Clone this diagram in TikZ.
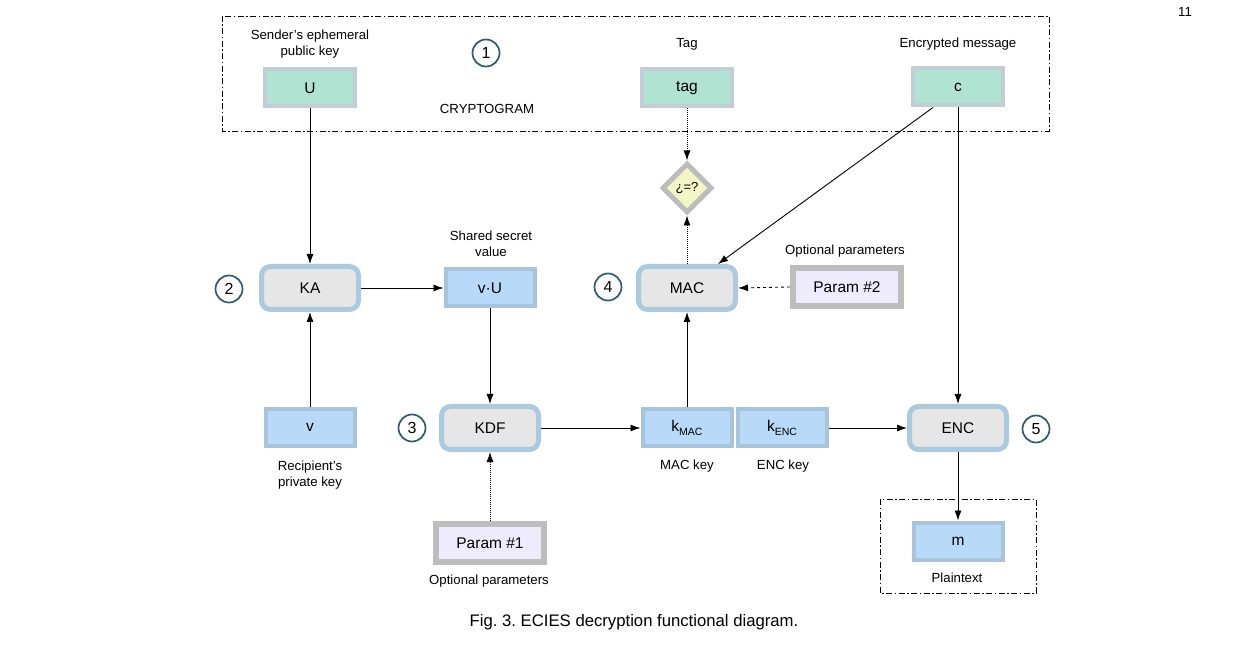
\documentclass[tikz,border=0pt]{standalone}
\usepackage{fontspec}
\setmainfont{Liberation Sans}
\frenchspacing
\usetikzlibrary{shapes.geometric,arrows.meta,calc}
\definecolor{grnfill}{HTML}{B1E3D3}
\definecolor{grnbord}{HTML}{C3CDD6}
\definecolor{blufill}{HTML}{B8D9F7}
\definecolor{blubord}{HTML}{A7C4DB}
\definecolor{rndfill}{HTML}{E6E6E6}
\definecolor{rndbord}{HTML}{ABC9DF}
\definecolor{parfill}{HTML}{EEEBFC}
\definecolor{parbord}{HTML}{BDBDBD}
\definecolor{dmdfill}{HTML}{F4F5C6}
\definecolor{dmdbord}{HTML}{BDBDBD}
\definecolor{circ}{HTML}{2F5B6C}
\tikzset{
  lbl/.style={font=\fontsize{13.2}{16}\selectfont, align=center, inner sep=0pt},
  boxtxt/.style={font=\fontsize{15.5}{18}\selectfont},
  greenbox/.style={boxtxt, draw=grnbord, fill=grnfill, line width=4pt, minimum width=90pt, minimum height=37pt, inner sep=0pt},
  bluebox/.style={boxtxt, draw=blubord, fill=blufill, line width=4pt, minimum width=89pt, minimum height=37pt, inner sep=0pt},
  funcbox/.style={boxtxt, draw=rndbord, fill=rndfill, line width=5pt, rounded corners=9pt, minimum width=97pt, minimum height=43pt, inner sep=0pt},
  parbox/.style={boxtxt, draw=parbord, fill=parfill, line width=6pt, minimum width=108pt, minimum height=38pt, inner sep=0pt},
  numc/.style={circle, draw=circ, line width=1.7pt, minimum size=27pt, inner sep=0pt, font=\fontsize{16}{19}\selectfont},
  frame/.style={line width=0.9pt, dash pattern=on 6pt off 2.5pt on 1.5pt off 2.5pt},
  arr/.style={-{Latex[length=10pt,width=7pt]}, line width=0.9pt, black},
  dotarr/.style={arr, dash pattern=on 1pt off 1pt},
  dasharr/.style={arr, dash pattern=on 3pt off 3pt}
}
\begin{document}
\begin{tikzpicture}[x=1pt,y=-1pt]
\useasboundingbox (0,0) rectangle (1254,652);
% frames
\draw[frame] (222,16) rectangle (1049,131);
\draw[frame] (880,499) rectangle (1036,593);
% page number
\node[lbl] (pg) at (1185,12) {11};
% cryptogram
\node[lbl] (lU) at (310,44) {Sender's ephemeral\\public key};
\node[greenbox] (U) at (310,88) {U};
\node[numc] (n1) at (486,53) {1};
\node[lbl] (crypt) at (487,109) {CRYPTOGRAM};
\node[lbl] (ltag) at (687,44) {Tag};
\node[greenbox] (tag) at (687,88) {tag};
\node[lbl] (lc) at (958,44) {Encrypted message};
\node[greenbox] (c) at (958,87) {c};
% diamond
\node[diamond, draw=dmdbord, fill=dmdfill, line width=5pt, minimum width=50pt, minimum height=50pt, inner sep=0pt, font=\fontsize{13}{15}\selectfont] (eq) at (687,188) {¿=?};
% row 2
\node[numc] (n2) at (229,289) {2};
\node[funcbox] (KA) at (310,288) {KA};
\node[lbl] (lvU) at (491,244) {Shared secret\\value};
\node[bluebox] (vU) at (490,288) {v·U};
\node[numc] (n4) at (608,287) {4};
\node[funcbox] (MAC) at (687,288) {MAC};
\node[lbl] (lp2) at (845,251) {Optional parameters};
\node[parbox] (p2) at (847,287) {Param \#2};
% row 3
\node[bluebox] (v) at (310,427.5) {v};
\node[lbl] (lv) at (310,475) {Recipient's\\private key};
\node[numc] (n3) at (412,428) {3};
\node[funcbox] (KDF) at (490,428) {KDF};
\node[bluebox] (kmac) at (687,428) {k\raisebox{-0.45ex}{\fontsize{10.5}{12}\selectfont MAC}};
\node[bluebox] (kenc) at (782,428) {k\raisebox{-0.45ex}{\fontsize{10.5}{12}\selectfont ENC}};
\node[lbl] (lkmac) at (687,466) {MAC key};
\node[lbl] (lkenc) at (783,466) {ENC key};
\node[funcbox] (ENC) at (958,428) {ENC};
\node[numc] (n5) at (1036,429) {5};
% bottom
\node[parbox] (p1) at (490,543) {Param \#1};
\node[lbl] (lp1) at (489,581) {Optional parameters};
\node[bluebox] (m) at (958,541) {m};
\node[lbl] (lm) at (957,578) {Plaintext};
\node[font=\fontsize{16.7}{20}\selectfont, inner sep=0pt] (cap) at (634,622) {Fig. 3. ECIES decryption functional diagram.};
% connectors
\draw[arr] (U.south) -- (KA.north);
\draw[arr] (v.north) -- (KA.south);
\draw[arr] (KA.east) -- (vU.west);
\draw[arr] (vU.south) -- (KDF.north);
\draw[dotarr] (p1.north) -- (KDF.south);
\draw[arr] (KDF.east) -- (kmac.west);
\draw[arr] (kmac.north) -- (MAC.south);
\draw[arr] (kenc.east) -- (ENC.west);
\draw[arr] ($(c.south)+(-25,0)$) -- ($(MAC.north)+(31,0)$);
\draw[arr] (c.south) -- (ENC.north);
\draw[arr] (ENC.south) -- (m.north);
\draw[dotarr] (tag.south) -- (eq.north);
\draw[dotarr] (MAC.north) -- (eq.south);
\draw[dasharr] (p2.west) -- (MAC.east);
\end{tikzpicture}
\end{document}
